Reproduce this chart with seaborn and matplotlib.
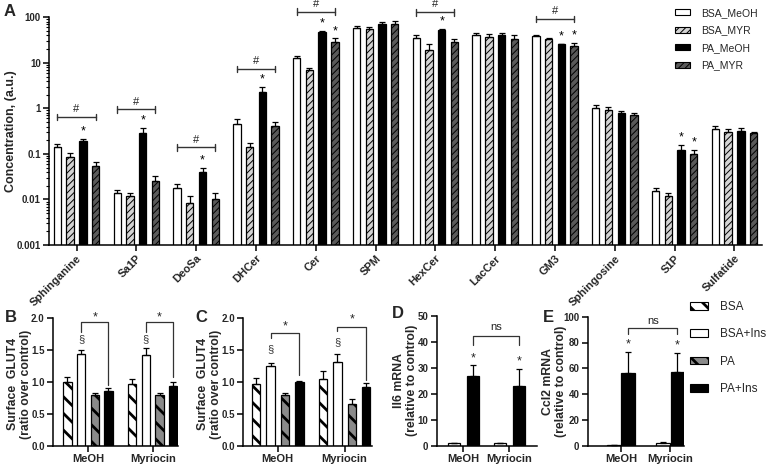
import numpy as np
import pandas as pd
import matplotlib
matplotlib.use("Agg")
import matplotlib.pyplot as plt
import seaborn as sns
from matplotlib.patches import Patch
from matplotlib.ticker import NullFormatter

# ---------------- data ----------------
lipids = ["Sphinganine", "Sa1P", "DeoSa", "DHCer", "Cer", "SPM", "HexCer",
          "LacCer", "GM3", "Sphingosine", "S1P", "Sulfatide"]
a_groups = ["BSA_MeOH", "BSA_MYR", "PA_MeOH", "PA_MYR"]
bsa_meoh     = [0.14, 0.014, 0.018, 0.45, 12.9, 57, 34.5, 40.8, 38.8, 1.03, 0.0155, 0.345]
bsa_meoh_top = [0.165, 0.0165, 0.022, 0.58, 14.3, 63, 40, 44.5, 40.5, 1.2, 0.018, 0.41]
bsa_myr      = [0.085, 0.012, 0.0082, 0.145, 6.9, 55, 19, 37.5, 33.4, 0.92, 0.0118, 0.297]
bsa_myr_top  = [0.105, 0.0142, 0.0118, 0.17, 7.9, 61, 25.5, 44, 35.5, 1.08, 0.0142, 0.36]
pa_meoh      = [0.19, 0.29, 0.04, 2.3, 48, 70, 52.6, 41, 25.5, 0.80, 0.121, 0.32]
pa_meoh_top  = [0.21, 0.38, 0.049, 2.9, 51, 79, 55, 44.5, 26.5, 0.87, 0.155, 0.38]
pa_myr       = [0.054, 0.0256, 0.010, 0.41, 28, 71, 28, 33.4, 23.8, 0.70, 0.0975, 0.285]
pa_myr_top   = [0.0665, 0.033, 0.0137, 0.49, 34.5, 83, 33, 41.5, 27, 0.79, 0.125, 0.305]
hash_lipids = ["Sphinganine", "Sa1P", "DeoSa", "DHCer", "Cer", "HexCer", "GM3"]
hash_levels = [0.65, 0.95, 0.139, 7.3, 133, 129, 92]
star_a = [("Sphinganine", "PA_MeOH"), ("Sa1P", "PA_MeOH"), ("DeoSa", "PA_MeOH"),
          ("DHCer", "PA_MeOH"), ("Cer", "PA_MeOH"), ("Cer", "PA_MYR"),
          ("HexCer", "PA_MeOH"), ("GM3", "PA_MeOH"), ("GM3", "PA_MYR"),
          ("S1P", "PA_MeOH"), ("S1P", "PA_MYR")]

conds = ["MeOH", "Myriocin"]
glut_groups = ["BSA", "BSA+Ins", "PA", "PA+Ins"]
b_bsa, b_bsa_top = [1.00, 0.97], [1.07, 1.04]
b_bsa_ins, b_bsa_ins_top = [1.43, 1.42], [1.50, 1.53]
b_pa, b_pa_top = [0.795, 0.795], [0.82, 0.83]
b_pa_ins, b_pa_ins_top = [0.86, 0.935], [0.91, 0.99]

c_bsa, c_bsa_top = [0.965, 1.04], [1.06, 1.17]
c_bsa_ins, c_bsa_ins_top = [1.245, 1.31], [1.30, 1.44]
c_pa, c_pa_top = [0.80, 0.66], [0.83, 0.74]
c_pa_ins, c_pa_ins_top = [1.00, 0.92], [1.02, 0.98]

mrna_groups = ["BSA", "PA"]
d_bsa, d_bsa_top = [0.9, 1.0], [1.1, 1.2]
d_pa, d_pa_top = [27.0, 22.9], [31.0, 29.5]
e_bsa, e_bsa_top = [0.5, 1.8], [0.6, 2.8]
e_pa, e_pa_top = [56.0, 57.4], [72.9, 71.6]

# ---------------- style ----------------
sns.set_theme(style="ticks")
plt.rcParams["font.family"] = ["Liberation Sans", "DejaVu Sans"]
plt.rcParams["hatch.color"] = "black"

W, H = 766, 466
fig = plt.figure(figsize=(W / 100, H / 100), dpi=100)


def rect(l, r, t, b):
    return [l / W, 1 - b / H, (r - l) / W, (b - t) / H]


def set_hlw(p, lw):
    if hasattr(p, "set_hatch_linewidth"):
        p.set_hatch_linewidth(lw)
    else:
        p._hatch_linewidth = lw


def draw_bars(ax, cats, groups, values, tops, colors, hatches, hatch_lw,
              width, gap, capsize):
    plt.rcParams["hatch.linewidth"] = hatch_lw
    rows = []
    for g, vals in zip(groups, values):
        for c, v in zip(cats, vals):
            rows.append({"cat": c, "grp": g, "val": v})
    df = pd.DataFrame(rows)
    sns.barplot(data=df, x="cat", y="val", hue="grp", order=cats,
                hue_order=groups, palette=dict(zip(groups, colors)),
                width=width, gap=gap, errorbar=None, saturation=1,
                edgecolor="black", linewidth=0.9, legend=False, ax=ax)
    centers = {}
    for cont, g, h, tp in zip(ax.containers, groups, hatches, tops):
        for bar in cont:
            xc = bar.get_x() + bar.get_width() / 2
            i = int(round(xc))
            if h:
                bar.set_hatch(h)
                set_hlw(bar, hatch_lw)
            v = bar.get_height()
            ax.errorbar(xc, v, yerr=[[0], [tp[i] - v]], fmt="none",
                        ecolor="black", elinewidth=0.9, capsize=capsize,
                        capthick=0.9, zorder=1)
            centers[(cats[i], g)] = (xc, tp[i])
    return centers


def style_axis(ax):
    sns.despine(ax=ax)
    for s in ["left", "bottom"]:
        ax.spines[s].set_linewidth(1.1)
        ax.spines[s].set_color("black")
    ax.tick_params(axis="both", which="major", direction="out", length=4,
                   width=1.1, color="black", pad=2)
    ax.set_xlabel("")


# ---------------- Panel A ----------------
axA = fig.add_axes(rect(49, 762, 17.3, 245))
cA = draw_bars(axA, lipids, a_groups,
               [bsa_meoh, bsa_myr, pa_meoh, pa_myr],
               [bsa_meoh_top, bsa_myr_top, pa_meoh_top, pa_myr_top],
               ["white", "#d4d4d4", "black", "#5a5a5a"],
               [None, "/////", None, "/////"], 0.7, 0.85, 0.42, 2)
axA.set_yscale("log")
axA.set_ylim(0.001, 100)
axA.set_xlim(-0.46, 11.46)
style_axis(axA)
axA.tick_params(axis="y", which="minor", length=2, width=0.8, color="black")
axA.yaxis.set_minor_formatter(NullFormatter())
axA.set_yticks([0.001, 0.01, 0.1, 1, 10, 100])
axA.set_yticklabels(["0.001", "0.01", "0.1", "1", "10", "100"],
                    fontsize=7, fontweight="bold")
axA.set_xticks(range(len(lipids)))
axA.set_xticklabels(lipids, rotation=45, ha="right", va="top",
                    rotation_mode="anchor", fontsize=8, fontweight="bold")
axA.set_ylabel("Concentration, (a.u.)", fontsize=9, fontweight="bold")
axA.yaxis.set_label_coords(-0.045, 0.5)

fA = 10 ** (3.3 / 45.5)
for lip, lev in zip(hash_lipids, hash_levels):
    x1 = cA[(lip, a_groups[0])][0]
    x4 = cA[(lip, a_groups[3])][0]
    kw = dict(color="#333333", lw=1, clip_on=False)
    axA.plot([x1, x4], [lev, lev], **kw)
    axA.plot([x1, x1], [lev / fA, lev * fA], **kw)
    axA.plot([x4, x4], [lev / fA, lev * fA], **kw)
    axA.annotate("#", ((x1 + x4) / 2, lev), xytext=(0, 2),
                 textcoords="offset points", ha="center", va="bottom",
                 fontsize=8, color="#222222", annotation_clip=False)
for lip, g in star_a:
    x, top = cA[(lip, g)]
    axA.annotate("*", (x, top), xytext=(0, 1), textcoords="offset points",
                 ha="center", va="bottom", fontsize=9, color="black",
                 annotation_clip=False)

plt.rcParams["hatch.linewidth"] = 0.7
hA = [Patch(facecolor=c, edgecolor="black", hatch=h, linewidth=0.8)
      for c, h in zip(["white", "#d4d4d4", "black", "#5a5a5a"],
                      [None, "/////", None, "/////"])]
for p in hA:
    set_hlw(p, 0.7)
fig.legend(hA, a_groups, loc="upper left", bbox_to_anchor=(675 / W, 1 - 8 / H),
           frameon=False, fontsize=7.5, handlelength=1.45, handleheight=0.5,
           handletextpad=1.1, labelspacing=0.72, borderpad=0, borderaxespad=0)

# ---------------- Panels B, C ----------------
glut_colors = ["white", "white", "#8a8a8a", "black"]
glut_hatches = ["\\\\", None, "\\\\", None]


def glut_panel(rc, values, tops, width, gap, xlim, lab_x, brackets):
    ax = fig.add_axes(rc)
    cc = draw_bars(ax, conds, glut_groups, values, tops, glut_colors,
                   glut_hatches, 2.0, width, gap, 2)
    ax.set_ylim(0, 2.0)
    ax.set_xlim(*xlim)
    style_axis(ax)
    ax.set_yticks([0, 0.5, 1.0, 1.5, 2.0])
    ax.set_yticklabels(["0.0", "0.5", "1.0", "1.5", "2.0"], fontsize=7,
                       fontweight="bold")
    ax.set_xticks([0, 1])
    ax.set_xticklabels(conds, fontsize=8, fontweight="bold")
    ax.set_ylabel("Surface  GLUT4\n(ratio over control)", fontsize=8.8,
                  fontweight="bold", linespacing=1.1)
    ax.yaxis.set_label_coords(lab_x, 0.48)
    for cond, yh, yl, yr, ys, ysec in brackets:
        xl = cc[(cond, "BSA+Ins")][0]
        xr = cc[(cond, "PA+Ins")][0]
        ax.plot([xl, xl, xr, xr], [yl, yh, yh, yr], color="#333333", lw=0.9,
                clip_on=False)
        ax.text((xl + xr) / 2, ys, "*", ha="center", va="center", fontsize=9,
                clip_on=False)
        ax.text(xl, ysec, "§", ha="center", va="center", fontsize=8,
                color="#333333")
    return ax


glut_panel(rect(53, 178, 317.7, 446),
           [b_bsa, b_bsa_ins, b_pa, b_pa_ins],
           [b_bsa_top, b_bsa_ins_top, b_pa_top, b_pa_ins_top],
           0.845, 0.39, (-0.54, 1.39), -0.17,
           [("MeOH", 1.93, 1.78, 0.95, 2.0, 1.67),
            ("Myriocin", 1.93, 1.78, 1.07, 2.0, 1.67)])
glut_panel(rect(243.3, 372, 317.7, 446),
           [c_bsa, c_bsa_ins, c_pa, c_pa_ins],
           [c_bsa_top, c_bsa_ins_top, c_pa_top, c_pa_ins_top],
           0.86, 0.41, (-0.515, 1.41), -0.166,
           [("MeOH", 1.755, 1.68, 1.1, 1.87, 1.51),
            ("Myriocin", 1.86, 1.79, 1.03, 1.97, 1.62)])

# ---------------- Panels D, E ----------------


def mrna_panel(rc, values, tops, width, gap, xlim, ymax, ystep, ylabel, lab_x,
               star_y, br_h, br_l, ns_y):
    ax = fig.add_axes(rc)
    cc = draw_bars(ax, conds, mrna_groups, values, tops, ["white", "black"],
                   [None, None], 1.0, width, gap, 2)
    ax.set_ylim(0, ymax)
    ax.set_xlim(*xlim)
    style_axis(ax)
    ax.set_yticks(np.arange(0, ymax + 1, ystep))
    ax.set_yticklabels([str(int(v)) for v in np.arange(0, ymax + 1, ystep)],
                       fontsize=7, fontweight="bold")
    ax.set_xticks([0, 1])
    ax.set_xticklabels(conds, fontsize=8, fontweight="bold")
    ax.set_ylabel(ylabel, fontsize=8.8, fontweight="bold", linespacing=1.1)
    ax.yaxis.set_label_coords(lab_x, 0.5)
    xl = cc[("MeOH", "PA")][0]
    xr = cc[("Myriocin", "PA")][0]
    for c, sy in zip(conds, star_y):
        ax.text(cc[(c, "PA")][0], sy, "*", ha="center", va="center",
                fontsize=9)
    ax.plot([xl, xl, xr, xr], [br_l, br_h, br_h, br_l], color="#333333",
            lw=0.9, clip_on=False)
    ax.text((xl + xr) / 2, ns_y, "ns", ha="center", va="center", fontsize=8,
            color="#222222")
    return ax


mrna_panel(rect(436.7, 536.7, 315.7, 445.7), [d_bsa, d_pa], [d_bsa_top, d_pa_top],
           0.83, 0.37, (-0.58, 1.6), 50, 10, "Il6 mRNA\n(relative to control)",
           -0.19, [33.5, 32.6], 42.2, 38.7, 45.8)
mrna_panel(rect(587.7, 684, 316.7, 445.7), [e_bsa, e_pa], [e_bsa_top, e_pa_top],
           0.576, 0.05, (-0.675, 1.28), 100, 20,
           "Ccl2 mRNA\n(relative to control)", -0.215, [78.5, 78], 91, 86.8, 97)

plt.rcParams["hatch.linewidth"] = 2.0
hB = [Patch(facecolor=c, edgecolor="black", hatch=h, linewidth=0.8)
      for c, h in zip(glut_colors, glut_hatches)]
for p in hB:
    set_hlw(p, 2.0)
fig.legend(hB, glut_groups, loc="upper left", bbox_to_anchor=(690 / W, 1 - 301 / H),
           frameon=False, fontsize=8.5, handlelength=1.5, handleheight=0.6,
           handletextpad=1.0, labelspacing=1.3, borderpad=0, borderaxespad=0)

# ---------------- panel letters ----------------
for lab, x, y in [("A", 10, 11), ("B", 11, 318), ("C", 201, 317),
                  ("D", 398, 314), ("E", 548, 317)]:
    fig.text(x / W, 1 - y / H, lab, fontsize=12, fontweight="bold",
             ha="center", va="center")

fig.savefig("out.png", dpi=100)
